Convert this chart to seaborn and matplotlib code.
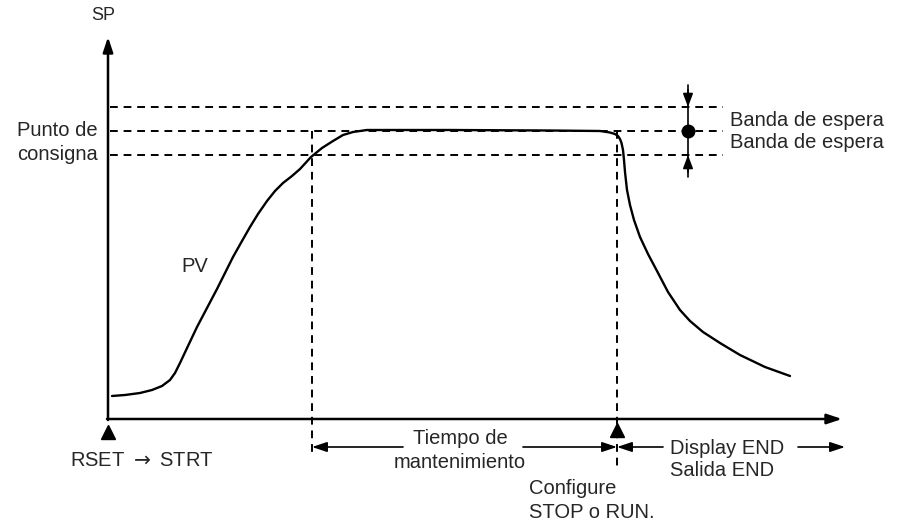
import seaborn as sns
import matplotlib.pyplot as plt
import pandas as pd

# PV curve (pixel-like units, y grows downward)
pv_x = [112, 125, 140, 152, 162, 170, 175, 180, 188, 197, 207, 217, 225, 233, 242, 250,
        258, 267, 275, 283, 292, 300, 311, 322, 333, 343, 353, 367, 450, 550, 600, 610,
        615, 618, 620, 621.5, 623, 624, 625, 627, 630, 634, 640, 648, 657, 668, 680, 690,
        703, 720, 740, 765, 790]
pv_y = [396, 395, 393, 390, 386, 380, 373, 363, 346, 327, 308, 289, 273, 257, 241, 227,
        214, 201, 191, 183, 176, 169, 157, 148, 141, 135, 132, 130, 130, 130.5, 131, 132.5,
        134, 136, 139, 143, 150, 160, 172, 190, 205, 220, 237, 254, 271, 292, 310, 321,
        332, 343, 355, 367, 376]

# reference levels and marks
band_levels = [107, 131, 155]        # upper band, set point, lower band
band_x = [110, 723]
hold_start, hold_end = 312, 617
origin_x, origin_y = 108, 419
axis_top, axis_right = 37, 842
band_arrow_x = 688

sns.set_style("white")
plt.rcParams['font.family'] = ['Liberation Sans', 'DejaVu Sans']

fig = plt.figure(figsize=(9.03, 5.21), dpi=100)
ax = fig.add_axes([0, 0, 1, 1])

fs = 14.5
lw = 1.4
dash = (4, 3)

# axes with arrowheads
head = dict(arrowstyle='-|>,head_length=0.9,head_width=0.3', color='black', lw=1.8,
            shrinkA=0, shrinkB=0)
ax.annotate('', xy=(origin_x, axis_top), xytext=(origin_x, origin_y + 1), arrowprops=head)
ax.annotate('', xy=(axis_right, origin_y), xytext=(origin_x - 1, origin_y), arrowprops=head)

# dashed band lines
for lvl in band_levels:
    ax.plot(band_x, [lvl, lvl], color='black', lw=lw, dashes=dash)

# vertical dashed lines
ax.plot([hold_start, hold_start], [band_levels[1], 455], color='black', lw=lw, dashes=dash)
ax.plot([hold_end, hold_end], [band_levels[1], 468], color='black', lw=lw, dashes=dash)

# PV curve
pv = pd.DataFrame({'t': pv_x, 'v': pv_y})
sns.lineplot(data=pv, x='t', y='v', sort=False, color='black', lw=1.7, ax=ax)
ax.set_xlim(0, 903)
ax.set_ylim(521, 0)
ax.axis('off')

# band width indicator
ax.plot([band_arrow_x, band_arrow_x], [85, 177], color='black', lw=1.2)
small = dict(arrowstyle='-|>,head_length=0.8,head_width=0.3', color='black', lw=1.2,
             shrinkA=0, shrinkB=0)
ax.annotate('', xy=(band_arrow_x, band_levels[0]), xytext=(band_arrow_x, 90), arrowprops=small)
ax.annotate('', xy=(band_arrow_x, band_levels[2]), xytext=(band_arrow_x, 172), arrowprops=small)
ax.plot([band_arrow_x], [band_levels[1]], 'o', color='black', ms=9)

# triangles under the time axis
ax.plot([origin_x, hold_end], [432, 430], '^', color='black', ms=10)

# time span arrows
arr = dict(arrowstyle='-|>,head_length=0.9,head_width=0.3', color='black', lw=1.2,
           shrinkA=0, shrinkB=0)
ax.annotate('', xy=(hold_start, 447), xytext=(403, 447), arrowprops=arr)
ax.annotate('', xy=(hold_end, 447), xytext=(523, 447), arrowprops=arr)
ax.annotate('', xy=(hold_end, 447), xytext=(663, 447), arrowprops=arr)
ax.annotate('', xy=(845, 447), xytext=(798, 447), arrowprops=arr)

# labels
ax.text(103, 15, 'SP', fontsize=fs - 1.5, ha='center', va='center')
ax.text(98, 131, 'Punto de', fontsize=fs, ha='right', va='center')
ax.text(98, 155, 'consigna', fontsize=fs, ha='right', va='center')
ax.text(195, 267, 'PV', fontsize=fs, ha='center', va='center')
ax.text(730, 120, 'Banda de espera', fontsize=fs, ha='left', va='center')
ax.text(730, 143, 'Banda de espera', fontsize=fs, ha='left', va='center')
ax.text(460, 438, 'Tiempo de', fontsize=fs, ha='center', va='center')
ax.text(460, 462, 'mantenimiento', fontsize=fs, ha='center', va='center')
ax.text(670, 448, 'Display END', fontsize=fs, ha='left', va='center')
ax.text(670, 471, 'Salida END', fontsize=fs, ha='left', va='center')
ax.text(529, 488, 'Configure', fontsize=fs, ha='left', va='center')
ax.text(529, 512, 'STOP o RUN.', fontsize=fs, ha='left', va='center')
ax.text(142, 460, 'RSET $\\rightarrow$ STRT', fontsize=fs, ha='center', va='center')

fig.savefig('out.png', dpi=100)
